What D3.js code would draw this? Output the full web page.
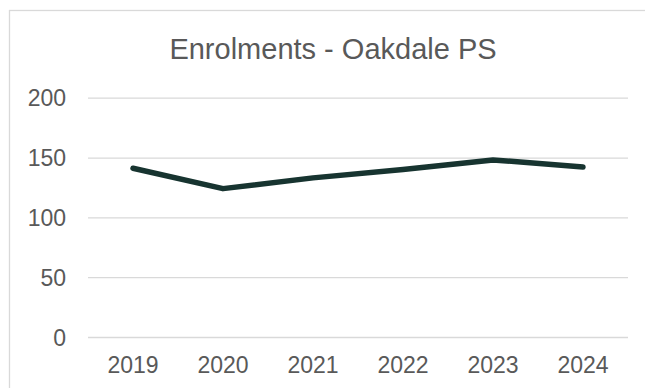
<!DOCTYPE html>
<html>
<head>
<meta charset="utf-8">
<script src="https://cdnjs.cloudflare.com/ajax/libs/d3/7.8.5/d3.min.js"></script>
<style>
  body { margin: 0; background: #fff; }
  svg { display: block; font-family: "Liberation Sans", Arial, sans-serif; }
  .grid line { stroke: #d9d9d9; stroke-width: 1.3px; }
  .grid .domain { display: none; }
  .axis text { fill: #595959; font-size: 23px; }
  .axis line, .axis .domain { display: none; }
</style>
</head>
<body>
<script>
  // chart data
  var years = ["2019", "2020", "2021", "2022", "2023", "2024"];
  var enrolments = [141, 124, 133, 140, 148, 142];
  var yTicks = [0, 50, 100, 150, 200];
  var title = "Enrolments - Oakdale PS";

  var W = 645, H = 388;
  var plot = {left: 88, right: 628, top: 97.7, bottom: 337};

  var svg = d3.select("body").append("svg")
      .attr("width", W)
      .attr("height", H);

  // outer chart frame (runs off the right and bottom edges)
  svg.append("rect")
      .attr("x", 9.5).attr("y", 10.5)
      .attr("width", 700).attr("height", 420)
      .attr("fill", "#fff")
      .attr("stroke", "#d9d9d9")
      .attr("stroke-width", 1.3);

  var x = d3.scaleBand()
      .domain(years)
      .range([plot.left, plot.right]);

  var y = d3.scaleLinear()
      .domain([0, 200])
      .range([plot.bottom, plot.top]);

  // horizontal gridlines
  svg.append("g")
      .attr("class", "grid")
      .attr("transform", "translate(" + plot.left + ",0)")
      .call(d3.axisLeft(y).tickValues(yTicks)
            .tickSize(-(plot.right - plot.left)).tickFormat(""));

  // y labels
  svg.append("g")
      .attr("class", "axis")
      .attr("transform", "translate(" + 66 + ",0)")
      .call(d3.axisLeft(y).tickValues(yTicks).tickSize(0).tickPadding(0))
      .selectAll("text")
      .attr("dy", "0.36em");

  // x labels
  svg.append("g")
      .attr("class", "axis")
      .attr("transform", "translate(0," + 356 + ")")
      .call(d3.axisBottom(x).tickSize(0).tickPadding(0))
      .selectAll("text")
      .attr("dy", "0.72em");

  // the line
  var line = d3.line()
      .x(function(d, i) { return x(years[i]) + x.bandwidth() / 2; })
      .y(function(d) { return y(d); });

  svg.append("path")
      .datum(enrolments)
      .attr("fill", "none")
      .attr("stroke", "#173430")
      .attr("stroke-width", 5.5)
      .attr("stroke-linecap", "round")
      .attr("stroke-linejoin", "round")
      .attr("d", line);

  // title
  svg.append("text")
      .attr("x", 333)
      .attr("y", 59)
      .attr("text-anchor", "middle")
      .attr("fill", "#595959")
      .style("font-size", "29px")
      .text(title);
</script>
</body>
</html>
